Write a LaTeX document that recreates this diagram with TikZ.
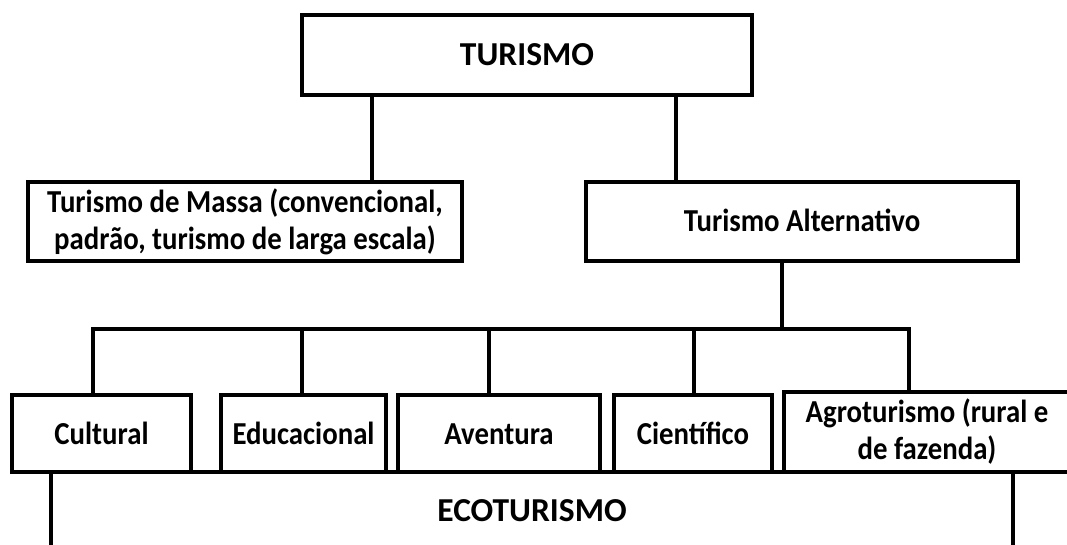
\documentclass[tikz,border=0pt]{standalone}
\usepackage{fontspec}
\setmainfont{Carlito}
\newfontfamily\narrowfont[FakeStretch=0.9]{Carlito}
\begin{document}
\begin{tikzpicture}[x=1pt,y=-1pt,
  box/.style={draw, fill=white, line width=3.5pt, rectangle, inner sep=0pt, align=center,
              font=\narrowfont\fontsize{32}{37}\selectfont\bfseries},
  capsbox/.style={box, font=\fontsize{33.5}{37}\selectfont\bfseries},
  oneline/.style={text height=28pt, text depth=7pt},
  link/.style={line width=4pt}]
\useasboundingbox (0,0) rectangle (1067,545);
\clip (0,0) rectangle (1067,545);
% junction coordinates
\coordinate (xa) at (372,0);
\coordinate (xb) at (676,0);
\coordinate (xc) at (782,0);
\coordinate (bar) at (0,329);
\coordinate (d1) at (93,0);
\coordinate (d2) at (302,0);
\coordinate (d3) at (489,0);
\coordinate (d4) at (694,0);
\coordinate (d5) at (909,0);
% boxes
\node[capsbox, oneline, minimum width=450pt, minimum height=80pt] (tur) at (527,55) {TURISMO};
\node[box, minimum width=434pt, minimum height=79pt] (mas) at (245,221.5) {Turismo de Massa (convencional,\\padrão, turismo de larga escala)};
\node[box, oneline, minimum width=432pt, minimum height=79pt] (alt) at (802,221.5) {Turismo Alternativo};
\node[capsbox, oneline, minimum width=962pt, minimum height=78pt] (eco) at (532,511) {ECOTURISMO};
\node[box, oneline, minimum width=179pt, minimum height=77pt] (cul) at (101.5,433.5) {Cultural};
\node[box, oneline, minimum width=165pt, minimum height=77pt] (edu) at (303.5,433.5) {Educacional};
\node[box, oneline, minimum width=202pt, minimum height=77pt] (ave) at (499,433.5) {Aventura};
\node[box, oneline, minimum width=158pt, minimum height=77pt] (cie) at (693,433.5) {Científico};
\node[box, minimum width=286pt, minimum height=80pt] (agr) at (927,432) {Agroturismo (rural e\\de fazenda)};
% connectors
\draw[link] (tur.south -| xa) -- (mas.north -| xa);
\draw[link] (tur.south -| xb) -- (alt.north -| xb);
\draw[link] (alt.south -| xc) -- (xc |- bar);
\draw[link] (cul.north -| d1) -- (d1 |- bar) -- (d5 |- bar) -- (agr.north -| d5);
\draw[link] (edu.north -| d2) -- (d2 |- bar);
\draw[link] (ave.north -| d3) -- (d3 |- bar);
\draw[link] (cie.north -| d4) -- (d4 |- bar);
\end{tikzpicture}
\end{document}
